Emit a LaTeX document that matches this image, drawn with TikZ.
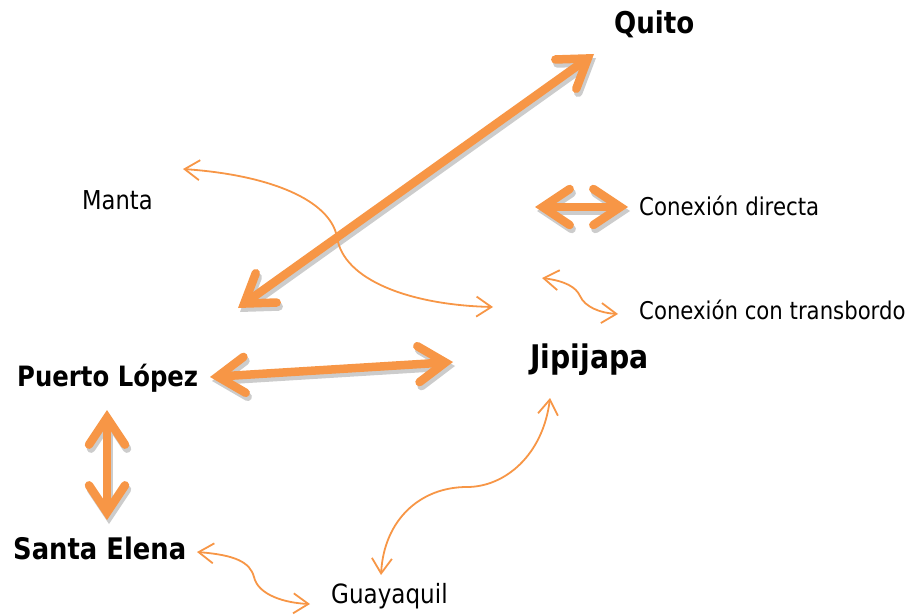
\documentclass[tikz,border=0pt]{standalone}
\usepackage{fontspec}
\setmainfont[FakeStretch=0.87]{DejaVu Sans}
\usetikzlibrary{arrows.meta,positioning}
\definecolor{linkorange}{HTML}{F79646}
\definecolor{shadowgray}{HTML}{CCCCCC}

\begin{document}
\begin{tikzpicture}[x=1pt, y=-1pt,
    city/.style={anchor=base west, inner sep=0pt, font=\fontsize{#1}{#1}\selectfont\bfseries},
    town/.style={anchor=base west, inner sep=0pt, font=\fontsize{#1}{#1}\selectfont},
    barb/.style={{Straight Barb[length=27pt,width=36pt,line cap=round,line join=miter]}-{Straight Barb[length=27pt,width=36pt,line cap=round,line join=miter]}},
    direct/.style={line width=8.5pt, draw=linkorange, barb},
    shade/.style={line width=8.5pt, draw=shadowgray, barb},
    transfer/.style={line width=1.8pt, draw=linkorange,
        {Straight Barb[length=15pt,width=20pt]}-{Straight Barb[length=15pt,width=20pt]}}]
                \useasboundingbox (0,0) rectangle (912,615);

                % places
                \node[city=30] (quito)      at (614,34)  {Quito};
                \node[town=26] (manta)      at (82,209)  {Manta};
                \node[city=32.5] (jipijapa)   at (530,368) {Jipijapa};
                \node[city=28] (lopez)      at (17,386)  {Puerto López};
                \node[city=29.7] (elena)      at (13,559)  {Santa Elena};
                \node[town=26.5] (guayaquil)  at (331,603) {Guayaquil};
                \node[town=24.5] (directa)    at (639,215) {Conexión directa};
                \node[town=24.4] (transbordo) at (639,319) {Conexión con transbordo};

                % arrow ends
                \coordinate (q1) at (594,54);   \coordinate (l1) at (238,308);
                \coordinate (l2) at (210,377);  \coordinate (j1) at (453,362);
                \coordinate (l3) at (107,410);  \coordinate (e1) at (107,520);
                \coordinate (d1) at (535,207);  \coordinate (d2) at (628,207);
                \coordinate (m1) at (183,169);  \coordinate (j2) at (493,307);
                \coordinate (j3) at (550,398);  \coordinate (g1) at (381,575);
                \coordinate (e2) at (197,552);  \coordinate (g2) at (310,604);
                \coordinate (t1) at (542,278);  \coordinate (t2) at (618,314);

                % direct links, shadow first
                \foreach \a/\b in {q1/l1, l2/j1, l3/e1, d1/d2} {
                    \draw[shade] ([shift={(2,4)}]\a) -- ([shift={(2,4)}]\b);
                    \draw[direct] (\a) -- (\b);
                }

                % links with transfer
                \draw[transfer] (m1) .. controls (270,175) and (330,200) .. (337,237)
                                     .. controls (343,280) and (410,305) .. (j2);
                \draw[transfer] (j3) .. controls (543,455) and (505,487) .. (467,487)
                                     .. controls (420,487) and (384,520) .. (g1);
                \draw[transfer] (e2) .. controls (235,555) and (250,562) .. (254,577)
                                     .. controls (258,595) and (285,603) .. (g2);
                \draw[transfer] (t1) .. controls (565,281) and (576,287) .. (580,296)
                                     .. controls (585,307) and (600,313) .. (t2);
\end{tikzpicture}
\end{document}
